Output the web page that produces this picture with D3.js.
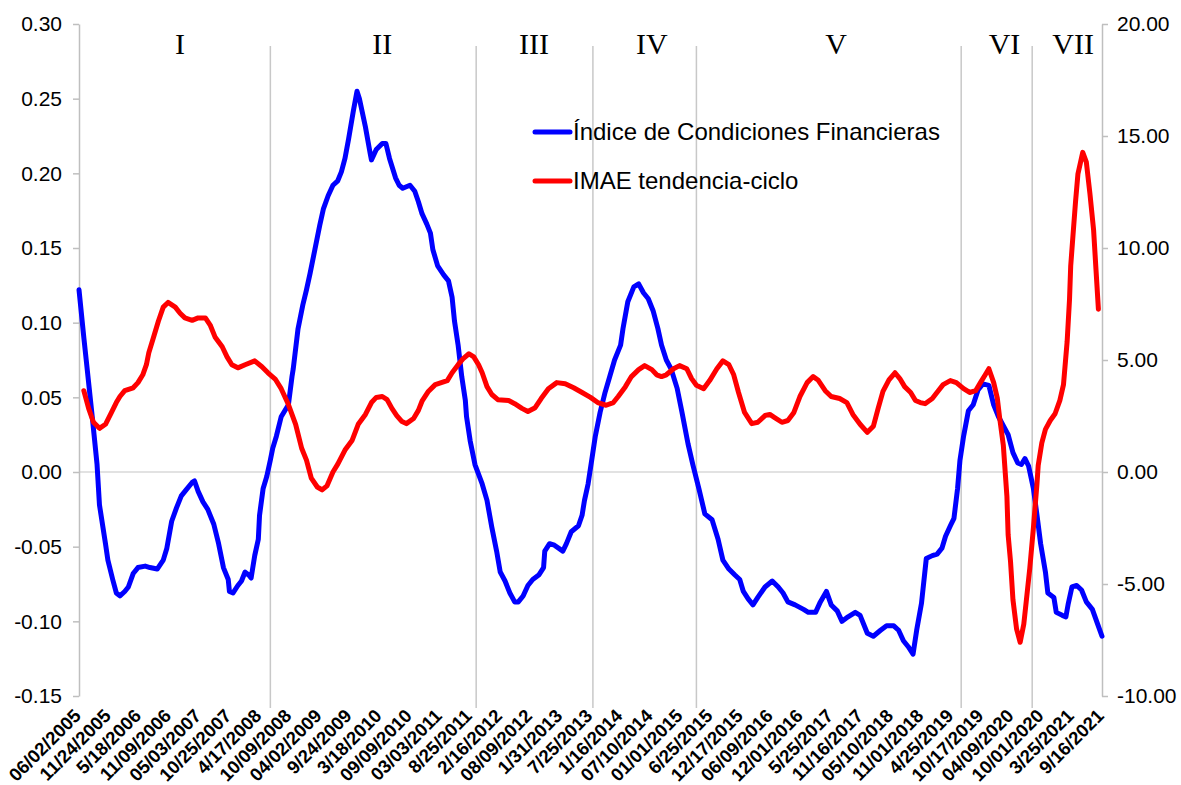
<!DOCTYPE html>
<html>
<head>
<meta charset="utf-8">
<script src="https://cdn.jsdelivr.net/npm/d3@7"></script>
<style>
  body { margin: 0; background: #fff; }
  svg { font-family: Arial, "Liberation Sans", sans-serif; }
</style>
</head>
<body>
<svg id="chart" width="1181" height="785"></svg>
<script>
// weekly data, week 0 = 06/02/2005
const tickLabels = ["06/02/2005","11/24/2005","5/18/2006","11/09/2006","05/03/2007","10/25/2007","4/17/2008","10/09/2008",
  "04/02/2009","9/24/2009","3/18/2010","09/09/2010","03/03/2011","8/25/2011","2/16/2012","08/09/2012","1/31/2013",
  "7/25/2013","1/16/2014","07/10/2014","01/01/2015","6/25/2015","12/17/2015","06/09/2016","12/01/2016","5/25/2017",
  "11/16/2017","05/10/2018","11/01/2018","4/25/2019","10/17/2019","04/09/2020","10/01/2020","3/25/2021","9/16/2021"];
const weeksPerTick = 25;

// Índice de Condiciones Financieras [week, value] (left axis)
const icf = [[0,0.122],[4,0.090],[6,0.075],[11,0.037],[15,0.005],[17,-0.022],[22,-0.048],[24,-0.059],[28,-0.072],[31,-0.081],
  [34,-0.083],[38,-0.080],[41,-0.077],[45,-0.068],[49,-0.064],[55,-0.063],[59,-0.064],[65,-0.065],[70,-0.059],[73,-0.051],
  [77,-0.033],[81,-0.024],[85,-0.016],[89,-0.012],[94,-0.007],[96,-0.006],[99,-0.013],[103,-0.020],[107,-0.025],[112,-0.035],
  [116,-0.048],[120,-0.064],[124,-0.072],[125,-0.080],[128,-0.081],[132,-0.076],[135,-0.073],[138,-0.067],[141,-0.069],[143,-0.071],
  [146,-0.056],[149,-0.045],[150,-0.029],[153,-0.011],[156,-0.003],[159,0.008],[161,0.016],[164,0.024],[168,0.037],[174,0.045],
  [177,0.064],[178,0.069],[182,0.096],[186,0.112],[189,0.122],[192,0.133],[196,0.149],[200,0.165],[203,0.176],[207,0.185],
  [211,0.192],[215,0.195],[218,0.201],[221,0.210],[224,0.223],[228,0.242],[231,0.255],[233,0.250],[238,0.231],[242,0.213],
  [243,0.209],[247,0.216],[252,0.220],[255,0.220],[258,0.210],[263,0.197],[266,0.192],[269,0.190],[275,0.192],[279,0.188],
  [282,0.181],[285,0.173],[289,0.166],[292,0.160],[294,0.149],[298,0.138],[303,0.132],[307,0.128],[310,0.117],[312,0.101],
  [315,0.085],[318,0.064],[321,0.048],[322,0.037],[325,0.021],[329,0.005],[335,-0.008],[339,-0.019],[343,-0.037],[347,-0.053],
  [350,-0.067],[354,-0.073],[358,-0.081],[362,-0.087],[365,-0.087],[369,-0.083],[373,-0.076],[377,-0.072],[382,-0.069],[386,-0.064],
  [387,-0.053],[391,-0.048],[395,-0.049],[402,-0.053],[405,-0.048],[409,-0.040],[415,-0.036],[418,-0.029],[420,-0.019],[423,-0.008],
  [426,0.008],[429,0.024],[433,0.040],[437,0.053],[441,0.064],[445,0.075],[450,0.085],[452,0.096],[456,0.114],[461,0.124],
  [465,0.126],[469,0.120],[473,0.116],[477,0.108],[481,0.096],[484,0.085],[488,0.075],[492,0.069],[497,0.056],[501,0.040],
  [506,0.019],[510,0.005],[515,-0.011],[520,-0.028],[526,-0.032],[531,-0.045],[535,-0.059],[540,-0.065],[545,-0.069],[549,-0.072],
  [552,-0.080],[556,-0.085],[560,-0.089],[564,-0.084],[570,-0.077],[576,-0.073],[581,-0.077],[585,-0.081],[589,-0.087],[595,-0.089],
  [602,-0.092],[606,-0.094],[612,-0.094],[616,-0.087],[621,-0.080],[625,-0.089],[630,-0.093],[634,-0.100],[639,-0.097],[645,-0.094],
  [649,-0.096],[655,-0.108],[660,-0.110],[666,-0.106],[671,-0.103],[677,-0.103],[681,-0.106],[685,-0.113],[689,-0.117],[693,-0.122],
  [696,-0.106],[700,-0.088],[704,-0.058],[709,-0.056],[713,-0.055],[717,-0.051],[720,-0.043],[724,-0.036],[727,-0.031],[730,-0.011],
  [732,0.008],[735,0.024],[739,0.041],[743,0.045],[747,0.055],[751,0.059],[756,0.058],[760,0.045],[764,0.037],[768,0.031],
  [772,0.025],[776,0.013],[780,0.006],[783,0.005],[786,0.009],[789,0.004],[793,-0.011],[796,-0.029],[799,-0.048],[803,-0.067],
  [805,-0.081],[810,-0.084],[812,-0.094],[817,-0.096],[820,-0.097],[822,-0.088],[825,-0.077],[829,-0.076],[833,-0.079],[837,-0.087],
  [842,-0.092],[846,-0.101],[850,-0.110]];

// IMAE tendencia-ciclo [week, value] (right axis)
const imae = [[4,3.63],[8,2.84],[12,2.22],[17,1.95],[22,2.13],[27,2.66],[31,3.10],[34,3.37],[38,3.63],[45,3.76],
  [49,3.99],[53,4.34],[56,4.79],[58,5.32],[62,6.03],[66,6.74],[70,7.36],[74,7.57],[80,7.36],[84,7.09],
  [88,6.88],[94,6.77],[99,6.88],[105,6.88],[109,6.56],[113,6.03],[119,5.59],[123,5.14],[127,4.79],[132,4.65],
  [138,4.79],[146,4.96],[152,4.70],[157,4.43],[163,4.15],[168,3.72],[174,3.01],[180,2.13],[185,1.06],[189,0.53],
  [193,-0.27],[198,-0.67],[202,-0.80],[206,-0.62],[211,0.00],[215,0.35],[221,0.98],[227,1.42],[232,2.13],[238,2.57],
  [243,3.10],[247,3.33],[252,3.37],[256,3.23],[260,2.84],[264,2.52],[268,2.27],[272,2.16],[278,2.39],[282,2.75],
  [285,3.16],[290,3.58],[296,3.90],[301,3.99],[306,4.08],[310,4.43],[315,4.79],[319,5.05],[324,5.28],[328,5.14],
  [332,4.79],[335,4.43],[339,3.81],[343,3.46],[348,3.23],[357,3.19],[362,3.05],[368,2.84],[373,2.70],[379,2.87],
  [384,3.28],[390,3.72],[397,3.99],[404,3.94],[411,3.76],[418,3.55],[425,3.33],[431,3.10],[438,2.98],[444,3.10],
  [448,3.37],[454,3.81],[459,4.26],[465,4.57],[470,4.75],[476,4.57],[480,4.34],[484,4.26],[488,4.34],[494,4.61],
  [499,4.75],[505,4.61],[509,4.17],[513,3.87],[519,3.72],[524,4.08],[530,4.61],[535,4.96],[540,4.79],[544,4.34],
  [548,3.55],[553,2.66],[559,2.16],[564,2.22],[570,2.52],[574,2.57],[578,2.43],[584,2.22],[589,2.30],[594,2.66],
  [599,3.37],[605,3.99],[610,4.26],[614,4.11],[620,3.63],[625,3.37],[632,3.28],[638,3.10],[643,2.57],[649,2.13],
  [655,1.77],[660,2.04],[664,2.84],[668,3.60],[673,4.11],[678,4.43],[682,4.17],[686,3.81],[691,3.55],[695,3.19],
  [699,3.10],[703,3.05],[709,3.28],[714,3.63],[718,3.90],[724,4.08],[729,3.99],[735,3.72],[740,3.55],[745,3.63],
  [749,3.99],[753,4.34],[756,4.61],[760,3.99],[763,3.30],[765,2.40],[768,1.20],[771,-1.10],[772,-2.80],[774,-4.00],
  [776,-5.70],[779,-7.00],[782,-7.60],[785,-6.80],[787,-5.80],[790,-4.30],[793,-2.50],[796,-0.50],[797,0.30],[800,1.30],
  [803,1.90],[807,2.30],[811,2.60],[815,3.20],[818,3.90],[821,5.80],[823,7.70],[824,9.20],[826,10.64],[828,12.06],
  [830,13.30],[834,14.27],[837,13.83],[840,12.41],[843,10.82],[845,9.04],[847,7.27]];

// periodos
const regimeBreaks = [159, 330, 427, 513, 733, 792];
const regimeNames = ["I", "II", "III", "IV", "V", "VI", "VII"];
const regimeNameWeeks = [84, 252, 378, 476, 629, 769, 826];

const seriesNames = ["Índice de Condiciones Financieras", "IMAE tendencia-ciclo"];
const seriesColors = ["#0000ff", "#ff0000"];

const svg = d3.select("#chart");
const plotLeft = 79, plotRight = 1102, plotTop = 24, plotBottom = 696;

const x = d3.scaleLinear().domain([0, (tickLabels.length - 1) * weeksPerTick]).range([plotLeft, plotRight]);
const yL = d3.scaleLinear().domain([-0.15, 0.30]).range([plotBottom, plotTop]);
const yR = d3.scaleLinear().domain([-10, 20]).range([plotBottom, plotTop]);

// linea del cero
svg.append("line")
  .attr("x1", plotLeft).attr("x2", plotRight)
  .attr("y1", yL(0)).attr("y2", yL(0))
  .attr("stroke", "#d9d9d9").attr("stroke-width", 1.5);

// separadores de periodos
svg.selectAll(".sep")
  .data(regimeBreaks)
  .join("line")
  .attr("class", "sep")
  .attr("x1", d => x(d)).attr("x2", d => x(d))
  .attr("y1", 46).attr("y2", 708)
  .attr("stroke", "#c8c8c8").attr("stroke-width", 1.5);

svg.selectAll(".regime")
  .data(regimeNames)
  .join("text")
  .attr("class", "regime")
  .attr("x", (d, i) => x(regimeNameWeeks[i]))
  .attr("y", 54)
  .attr("text-anchor", "middle")
  .style("font-family", "'Liberation Serif', 'Times New Roman', serif")
  .style("font-size", "30px")
  .text(d => d);

// ejes
const axL = svg.append("g")
  .attr("transform", "translate(" + plotLeft + ",0)")
  .call(d3.axisLeft(yL).ticks(9).tickSize(6).tickSizeOuter(0).tickPadding(11).tickFormat(d => d.toFixed(2)));
const axR = svg.append("g")
  .attr("transform", "translate(" + plotRight + ",0)")
  .call(d3.axisRight(yR).ticks(6).tickSize(6).tickSizeOuter(0).tickPadding(9).tickFormat(d => d.toFixed(2)));
[axL, axR].forEach(function(ax) {
  ax.select(".domain").attr("stroke", "#bfbfbf").attr("stroke-width", 1.5);
  ax.selectAll(".tick line").attr("stroke", "#bfbfbf").attr("stroke-width", 1.5);
  ax.selectAll(".tick text").style("font-size", "21px").style("font-family", "Arial, 'Liberation Sans', sans-serif").attr("fill", "#000");
});

// etiquetas de fechas
svg.selectAll(".date")
  .data(tickLabels)
  .join("text")
  .attr("class", "date")
  .attr("transform", (d, i) => "translate(" + (x(i * weeksPerTick) + 3) + ",717) rotate(-45)")
  .attr("text-anchor", "end")
  .style("font-size", "18.5px")
  .style("font-weight", "bold")
  .text(d => d);

// series
const lineL = d3.line().x(d => x(d[0])).y(d => yL(d[1]));
const lineR = d3.line().x(d => x(d[0])).y(d => yR(d[1]));

svg.append("path")
  .datum(icf)
  .attr("d", lineL)
  .attr("fill", "none")
  .attr("stroke", seriesColors[0])
  .attr("stroke-width", 5)
  .attr("stroke-linejoin", "round")
  .attr("stroke-linecap", "round");

svg.append("path")
  .datum(imae)
  .attr("d", lineR)
  .attr("fill", "none")
  .attr("stroke", seriesColors[1])
  .attr("stroke-width", 5)
  .attr("stroke-linejoin", "round")
  .attr("stroke-linecap", "round");

// leyenda
const legend = svg.selectAll(".legend")
  .data(seriesNames)
  .join("g")
  .attr("class", "legend")
  .attr("transform", (d, i) => "translate(535," + (132 + i * 49) + ")");

legend.append("line")
  .attr("x1", 0).attr("x2", 35)
  .attr("stroke", (d, i) => seriesColors[i])
  .attr("stroke-width", 5)
  .attr("stroke-linecap", "round");

legend.append("text")
  .attr("x", 38)
  .attr("dy", "0.35em")
  .style("font-size", "24px")
  .text(d => d);
</script>
</body>
</html>
